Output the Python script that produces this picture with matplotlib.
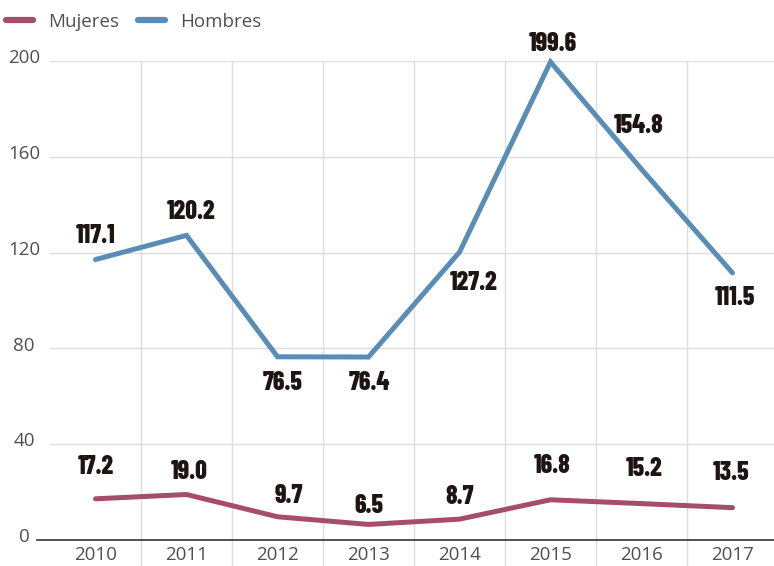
import matplotlib.pyplot as plt

# Data
years = ["2010", "2011", "2012", "2013", "2014", "2015", "2016", "2017"]
mujeres = [17.2, 19.0, 9.7, 6.5, 8.7, 16.8, 15.2, 13.5]
hombres = [117.1, 127.2, 76.5, 76.4, 120.2, 199.6, 154.8, 111.5]
# label text as printed in the original (2011/2014 are swapped there)
hombres_labels = ["117.1", "120.2", "76.5", "76.4", "127.2", "199.6", "154.8", "111.5"]
mujeres_labels = ["17.2", "19.0", "9.7", "6.5", "8.7", "16.8", "15.2", "13.5"]

# label offsets in points (dx, dy)
hombres_off = [(0, 17), (3, 17), (4, -19), (1, -19), (10, -22), (2, 13), (-2, 31), (2, -18)]
mujeres_off = [(0, 23), (2, 16), (8, 15), (0, 13), (0, 16), (1, 24), (2, 25), (-1, 25)]

c_muj = "#a64d6c"
c_hom = "#5a8db5"
c_lab = "#1e1512"
c_txt = "#505050"

plt.rcParams["font.family"] = ["Open Sans", "DejaVu Sans"]

fig = plt.figure(figsize=(7.74, 5.66), dpi=100)
ax = fig.add_axes([50 / 774, 26 / 566, 724 / 774, 479 / 566])

x = list(range(len(years)))
ax.plot(x, mujeres, color=c_muj, lw=3.6, solid_capstyle="round", solid_joinstyle="miter", label="Mujeres", zorder=3)
ax.plot(x, hombres, color=c_hom, lw=3.6, solid_capstyle="round", solid_joinstyle="miter", label="Hombres",
        zorder=3, clip_on=False)

lab_font = dict(family=["Barlow Condensed", "DejaVu Sans"], weight=800,
                fontsize=18.5, color=c_lab, ha="center", va="center")
for i in x:
    ax.annotate(hombres_labels[i], (i, hombres[i]), xytext=hombres_off[i], textcoords="offset points",
                **lab_font)
    ax.annotate(mujeres_labels[i], (i, mujeres[i]), xytext=mujeres_off[i], textcoords="offset points",
                **lab_font)

ax.set_xlim(-0.5, 7.456)
ax.set_ylim(0, 200)

# grid
for yv in [40, 80, 120, 160, 200]:
    ax.axhline(yv, color="#dddddd", lw=1, zorder=1, xmin=-0.002)
for i in range(len(years) - 1):
    ax.vlines(i + 0.5, -11, 200, color="#dddddd", lw=1, zorder=1, clip_on=False)
ax.plot([-0.018, 1], [0, 0], transform=ax.get_yaxis_transform(), color="#333333", lw=1.2,
        clip_on=False, zorder=2)

for s in ax.spines.values():
    s.set_visible(False)

ax.set_xticks(x)
ax.set_xticklabels(years, fontsize=13.5, color=c_txt)
ax.set_yticks([0, 40, 80, 120, 160, 200])
ax.set_yticklabels([])
for yv in [0, 40, 80, 120, 160, 200]:
    ax.annotate(str(yv), (-0.036, yv), xycoords=ax.get_yaxis_transform(), xytext=(0, 2),
                textcoords="offset points", ha="center", va="center", fontsize=13.5, color=c_txt,
                annotation_clip=False)
ax.tick_params(length=0, pad=4)

leg = ax.legend(loc="upper left", bbox_to_anchor=(-48 / 724, 1 + 52 / 479), ncol=2, frameon=False,
                labelcolor=c_txt, handlelength=1.45, handletextpad=0.8, columnspacing=1.0,
                borderaxespad=0, borderpad=0.2, prop={"size": 13.5})
for h in leg.get_lines():
    h.set_linewidth(4.5)

fig.savefig("out.png", dpi=100)
